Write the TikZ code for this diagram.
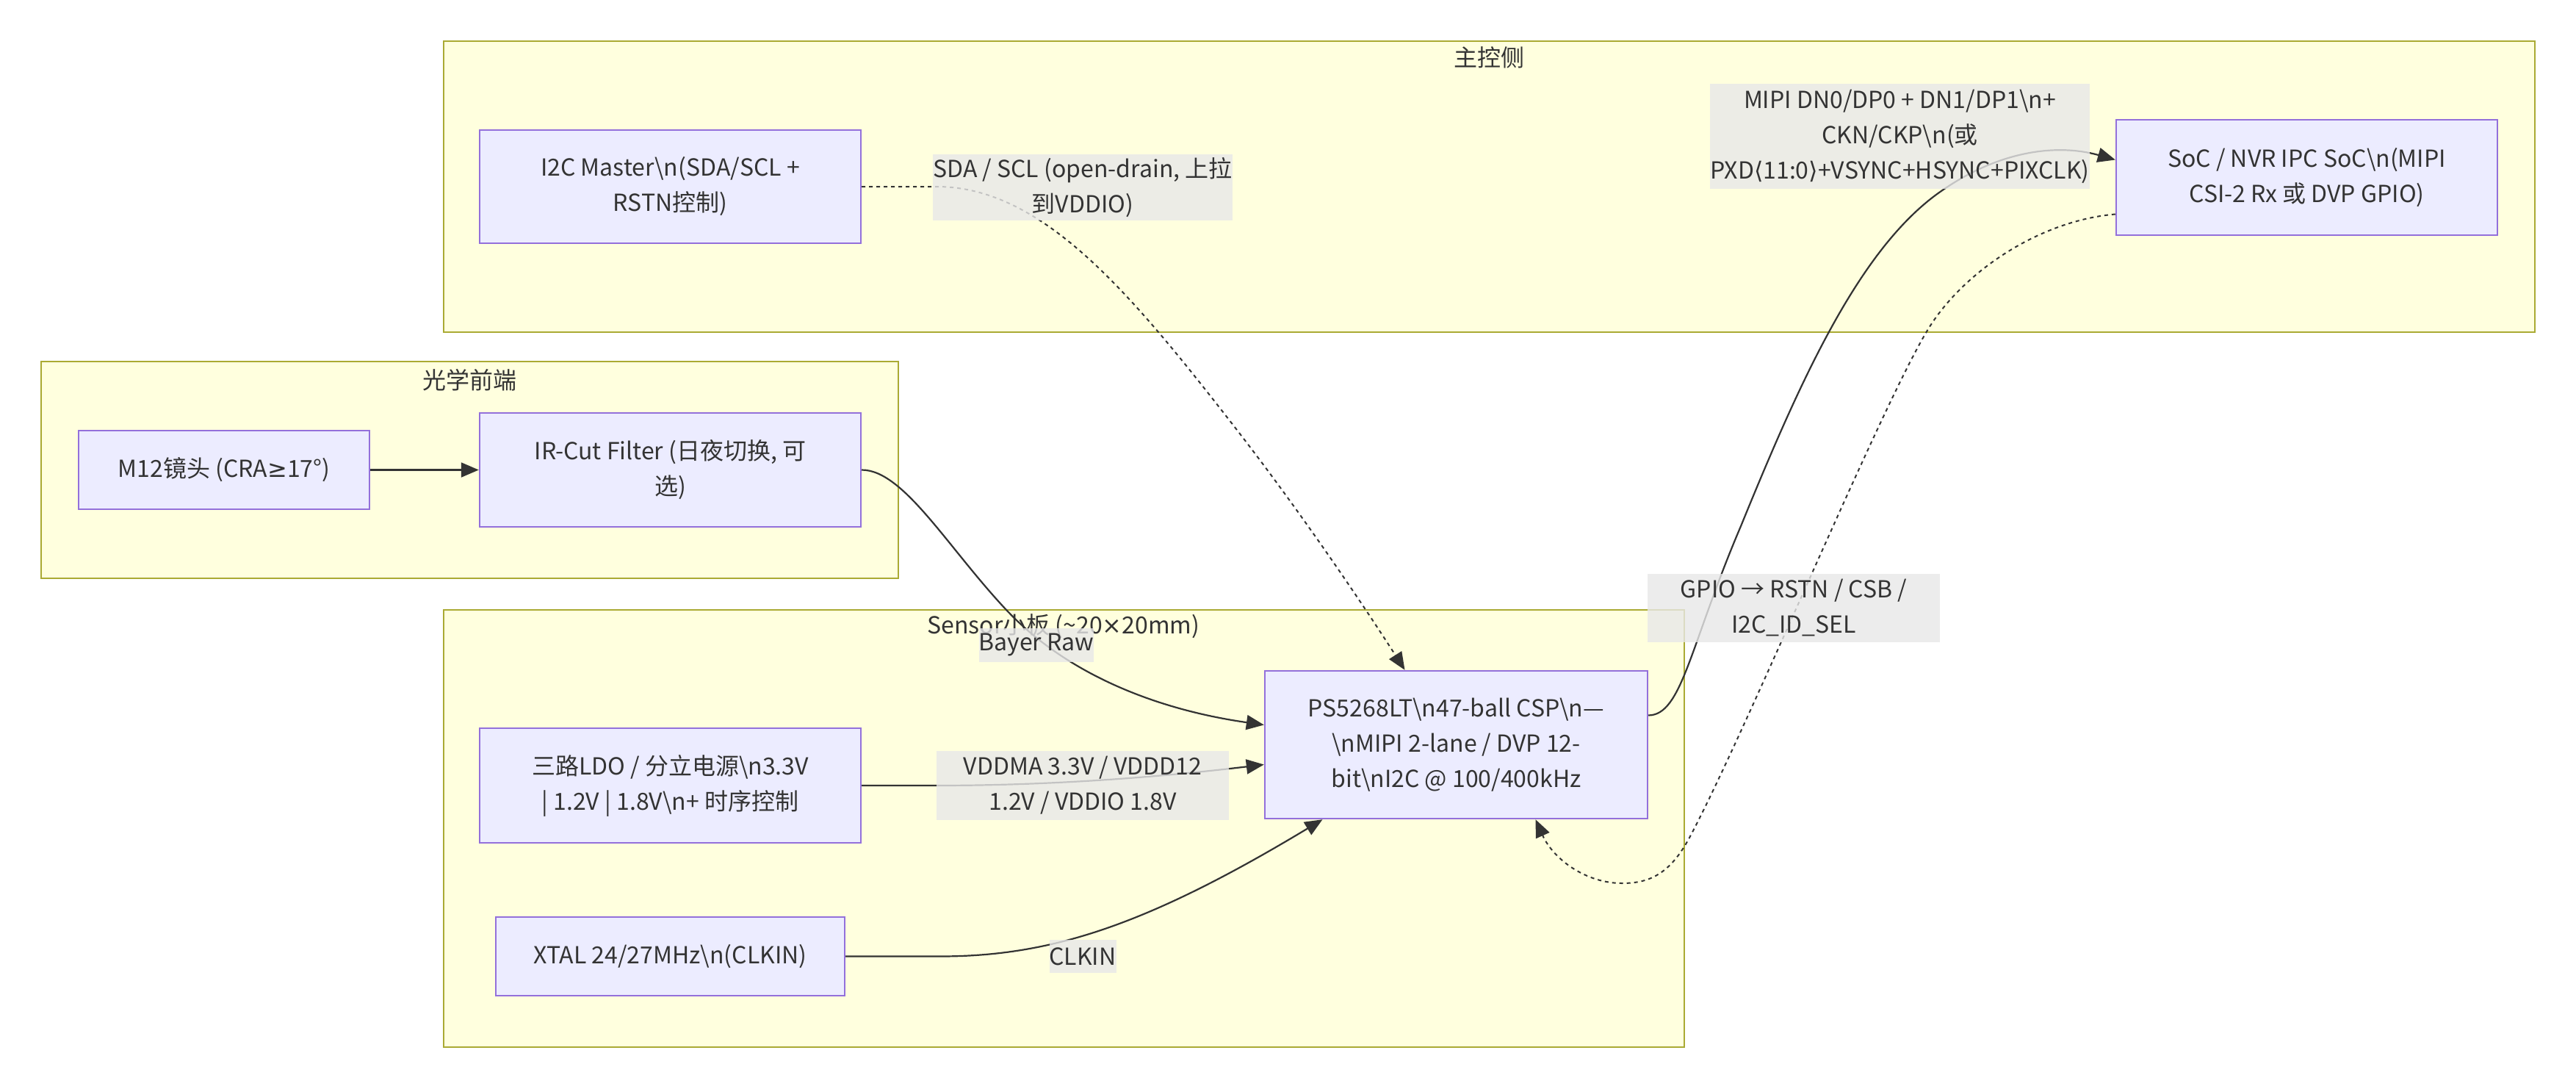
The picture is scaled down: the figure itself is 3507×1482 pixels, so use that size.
\documentclass[tikz,border=0pt]{standalone}
\usepackage{fontspec}
\setmainfont{Noto Sans CJK SC}
\newfontfamily\angfont{DejaVu Sans}
\usetikzlibrary{arrows.meta}
\definecolor{nodefill}{HTML}{ECECFF}
\definecolor{nodedraw}{HTML}{9370DB}
\definecolor{clfill}{HTML}{FFFFDE}
\definecolor{cldraw}{HTML}{AAAA33}
\definecolor{txt}{HTML}{333333}
\definecolor{lblfill}{HTML}{E8E8E8}
\newcommand\bsn{\textbackslash n}
\begin{document}
\begin{tikzpicture}[x=1pt,y=-1pt,
  every node/.style={font=\fontsize{32}{48}\selectfont, text=txt},
  cluster/.style={draw=cldraw, fill=clfill, line width=2.4pt, inner sep=0pt},
  box/.style={draw=nodedraw, fill=nodefill, line width=2.4pt, align=center, inner sep=0pt},
  lbl/.style={fill=lblfill, fill opacity=0.8, text opacity=1, align=center, inner sep=0pt},
  conn/.style={draw=txt, line width=2.2pt, -{Triangle[length=24pt,width=20pt]}},
  dotconn/.style={conn, line width=2pt, dash pattern=on 5pt off 5pt},
]
\fill[white] (0,0) rectangle (3507,1482);
\useasboundingbox (0,0) rectangle (3507,1482);

% clusters
\node[cluster, minimum width=2847pt, minimum height=396pt] (cmain) at (2027.5,254) {};
\node[cluster, minimum width=1167pt, minimum height=295pt] (copt) at (639.5,639.5) {};
\node[cluster, minimum width=1689pt, minimum height=595pt] (csen) at (1448.5,1127.5) {};
\node (tmain) at (2027.5,78) {主控侧};
\node (topt) at (639.5,517) {光学前端};
\node (tsen) at (1448,852) {Sensor小板 (\textasciitilde 20{\angfont ×}20mm)};

% nodes
\node[box, minimum width=519pt, minimum height=154pt] (i2c) at (912.5,254) {I2C Master\bsn(SDA/SCL +\\RSTN控制)};
\node[box, minimum width=519pt, minimum height=157pt] (soc) at (3140.5,241.5) {SoC / NVR IPC SoC\bsn(MIPI\\CSI-2 Rx 或 DVP GPIO)};
\node[box, minimum width=396pt, minimum height=107pt] (m12) at (305,639.5) {M12镜头 (CRA{\angfont ≥}17°)};
\node[box, minimum width=519pt, minimum height=155pt] (ir) at (912.5,639.5) {IR-Cut Filter (日夜切换, 可\\选)};
\node[box, minimum width=519pt, minimum height=156pt] (ldo) at (912.5,1069) {三路LDO / 分立电源\bsn3.3V\\| 1.2V | 1.8V\bsn+ 时序控制};
\node[box, minimum width=475pt, minimum height=107pt] (xtal) at (912.5,1301.5) {XTAL 24/27MHz\bsn(CLKIN)};
\node[box, minimum width=521pt, minimum height=201pt] (ps) at (1982.5,1013.5) {PS5268LT\bsn47-ball CSP\bsn—\\\bsn MIPI 2-lane / DVP 12-\\bit\bsn I2C @ 100/400kHz};

% connectors
\draw[conn] (m12.east) -- (ir.west);
\draw[conn] (ir.east) .. controls (1230,639.5) and (1290,745) .. (1370,830)
  .. controls (1450,915) and (1570,965) .. ([yshift=27pt]ps.west);
\draw[conn] (ldo.east) -- (1275,1069) .. controls (1450,1069) and (1600,1055) .. ([yshift=-27pt]ps.west);
\draw[conn] (xtal.east) -- (1280,1301.5) .. controls (1430,1301.5) and (1560,1260) .. ([xshift=-182pt]ps.south);
\draw[dotconn] (i2c.east) -- (1275,254) .. controls (1420,254) and (1540,400) .. (1680,580)
  .. controls (1785,715) and (1877,856) .. ([xshift=-70pt]ps.north);
\draw[conn] ([yshift=40pt]ps.east) .. controls (2290,973) and (2300,880) .. (2370,716)
  .. controls (2450,520) and (2530,340) .. (2640,262)
  .. controls (2720,205) and (2800,195) .. ([yshift=24pt]soc.west);
\draw[dotconn] ([yshift=-50pt]soc.west) .. controls (2780,300) and (2680,365) .. (2630,440)
  .. controls (2570,530) and (2380,990) .. (2300,1140)
  .. controls (2273,1190) and (2245,1202) .. (2208,1202)
  .. controls (2160,1202) and (2115,1170) .. ([xshift=108pt]ps.south);

% edge labels
\node[lbl, minimum width=398pt, minimum height=90pt] (lsda) at (1474,255) {SDA / SCL (open-drain, 上拉\\到VDDIO)};
\node[lbl, minimum width=485pt, minimum height=143pt] (lmipi) at (2586.5,185.5) {MIPI DN0/DP0 + DN1/DP1\bsn+\\CKN/CKP\bsn(或\\PXD{\angfont ⟨}11:0{\angfont ⟩}+VSYNC+HSYNC+PIXCLK)};
\node[lbl, minimum width=150pt, minimum height=46pt] (lbay) at (1411,878) {Bayer Raw};
\node[lbl, minimum width=398pt, minimum height=94pt] (lvdd) at (1474,1069) {VDDMA 3.3V / VDDD12\\1.2V / VDDIO 1.8V};
\node[lbl, minimum width=85pt, minimum height=45pt] (lclk) at (1474,1301.5) {CLKIN};
\node[lbl, minimum width=398pt, minimum height=93pt] (lgpio) at (2442,827.5) {GPIO → RSTN / CSB /\\I2C\_ID\_SEL};
\end{tikzpicture}
\end{document}
